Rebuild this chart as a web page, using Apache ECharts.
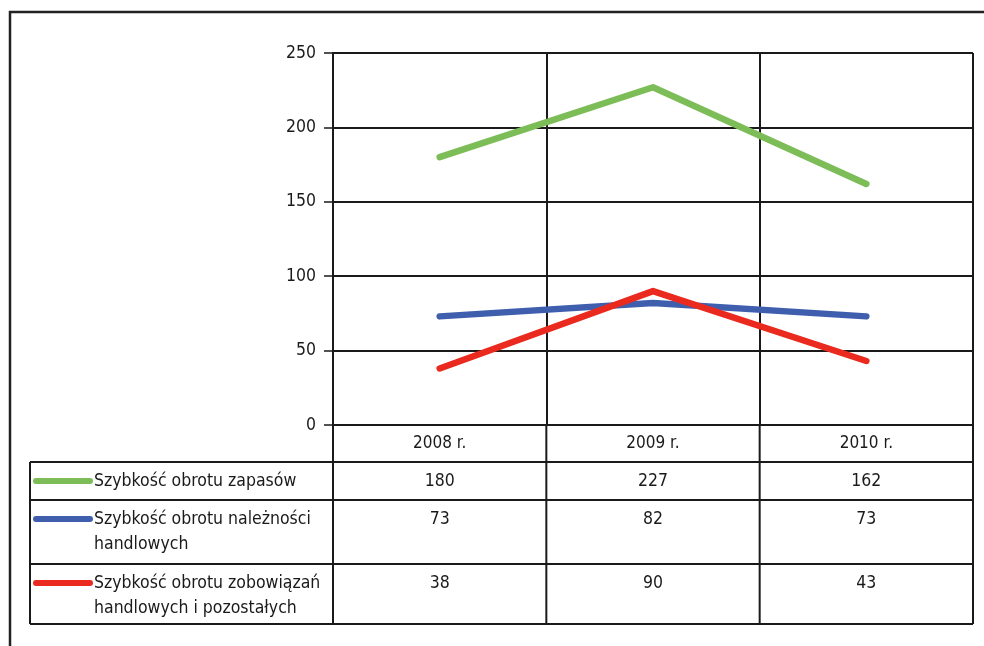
<!DOCTYPE html>
<html>
<head>
<meta charset="utf-8">
<script src="https://cdn.jsdelivr.net/npm/echarts@6/dist/echarts.min.js"></script>
<style>
html,body{margin:0;padding:0;background:#fff;}
#chart{width:984px;height:646px;}
</style>
</head>
<body>
<div id="chart"></div>
<script>
const categories = ['2008 r.', '2009 r.', '2010 r.'];
const rowLabels = [
  ['Szybkość obrotu zapasów'],
  ['Szybkość obrotu należności', 'handlowych'],
  ['Szybkość obrotu zobowiązań', 'handlowych i pozostałych']
];
const zapasy = [180, 227, 162];
const naleznosci = [73, 82, 73];
const zobowiazania = [38, 90, 43];
const seriesData = [zapasy, naleznosci, zobowiazania];
const colors = ['#7cbd58', '#3f5fae', '#ea2a1e'];
const yMin = 0, yMax = 250, yStep = 50;

const FONT = '"Liberation Sans Narrow", "DejaVu Sans Condensed", "Roboto Condensed", sans-serif';
const INK = '#1a1a1a';

const chart = echarts.init(document.getElementById('chart'));
const gridLeft = 333, gridRight = 11, gridTop = 53, gridBottom = 221;

chart.setOption({
  animation: false,
  backgroundColor: '#fff',
  grid: { left: gridLeft, right: gridRight, top: gridTop, bottom: gridBottom },
  xAxis: {
    type: 'category',
    data: categories,
    boundaryGap: true,
    axisLine: { show: true, lineStyle: { color: INK, width: 2 } },
    axisTick: { show: false },
    axisLabel: { color: INK, fontFamily: FONT, fontSize: 17, margin: 10 },
    splitLine: { show: true, lineStyle: { color: INK, width: 2 } }
  },
  yAxis: {
    type: 'value',
    min: yMin, max: yMax, interval: yStep,
    axisLine: { show: true, lineStyle: { color: INK, width: 2 } },
    axisTick: { show: true, length: 9, lineStyle: { color: INK, width: 1.5 } },
    axisLabel: { color: INK, fontFamily: FONT, fontSize: 17.5, margin: 17 },
    splitLine: { show: true, lineStyle: { color: INK, width: 2 } }
  },
  series: seriesData.map((d, i) => ({
    type: 'line',
    name: rowLabels[i].join(' '),
    data: d,
    symbol: 'none',
    lineStyle: { color: colors[i], width: 6.5, cap: 'round', join: 'round' },
    itemStyle: { color: colors[i] }
  }))
});

// Data table below the plot
const plotLeft = gridLeft, plotRight = 984 - gridRight;
const bandW = (plotRight - plotLeft) / categories.length;
const zeroY = chart.convertToPixel({ yAxisIndex: 0 }, 0);
const tableLeft = 30;
const rowEdges = [zeroY + 37, zeroY + 75, zeroY + 139, zeroY + 199];
const g = [];
const line = (x1, y1, x2, y2, w) => g.push({ type: 'line', shape: { x1, y1, x2, y2 }, style: { stroke: INK, lineWidth: w || 2 }, silent: true });

// outer frame
g.push({ type: 'rect', shape: { x: 10, y: 12, width: 1000, height: 700 }, style: { fill: null, stroke: '#222', lineWidth: 2.5 }, silent: true });

rowEdges.forEach(y => line(tableLeft, y, plotRight, y));
line(tableLeft, rowEdges[0], tableLeft, rowEdges[3]);
for (let k = 0; k <= categories.length; k++) {
  const x = plotLeft + k * bandW;
  line(x, zeroY, x, rowEdges[3]);
}

for (let r = 0; r < seriesData.length; r++) {
  const top = rowEdges[r];
  const ty = top + 19;
  g.push({ type: 'line', shape: { x1: 36, y1: ty, x2: 90, y2: ty }, style: { stroke: colors[r], lineWidth: 6, lineCap: 'round' }, silent: true });
  rowLabels[r].forEach((t, j) => {
    g.push({ type: 'text', x: 94, y: ty + j * 25, style: { text: t, fill: INK, font: '17.5px ' + FONT, textVerticalAlign: 'middle', textAlign: 'left' }, silent: true });
  });
  seriesData[r].forEach((v, c) => {
    const x = chart.convertToPixel({ xAxisIndex: 0 }, c);
    g.push({ type: 'text', x: x, y: ty, style: { text: String(v), fill: INK, font: '17.5px ' + FONT, textVerticalAlign: 'middle', textAlign: 'center' }, silent: true });
  });
}

chart.setOption({ graphic: g });
</script>
</body>
</html>
